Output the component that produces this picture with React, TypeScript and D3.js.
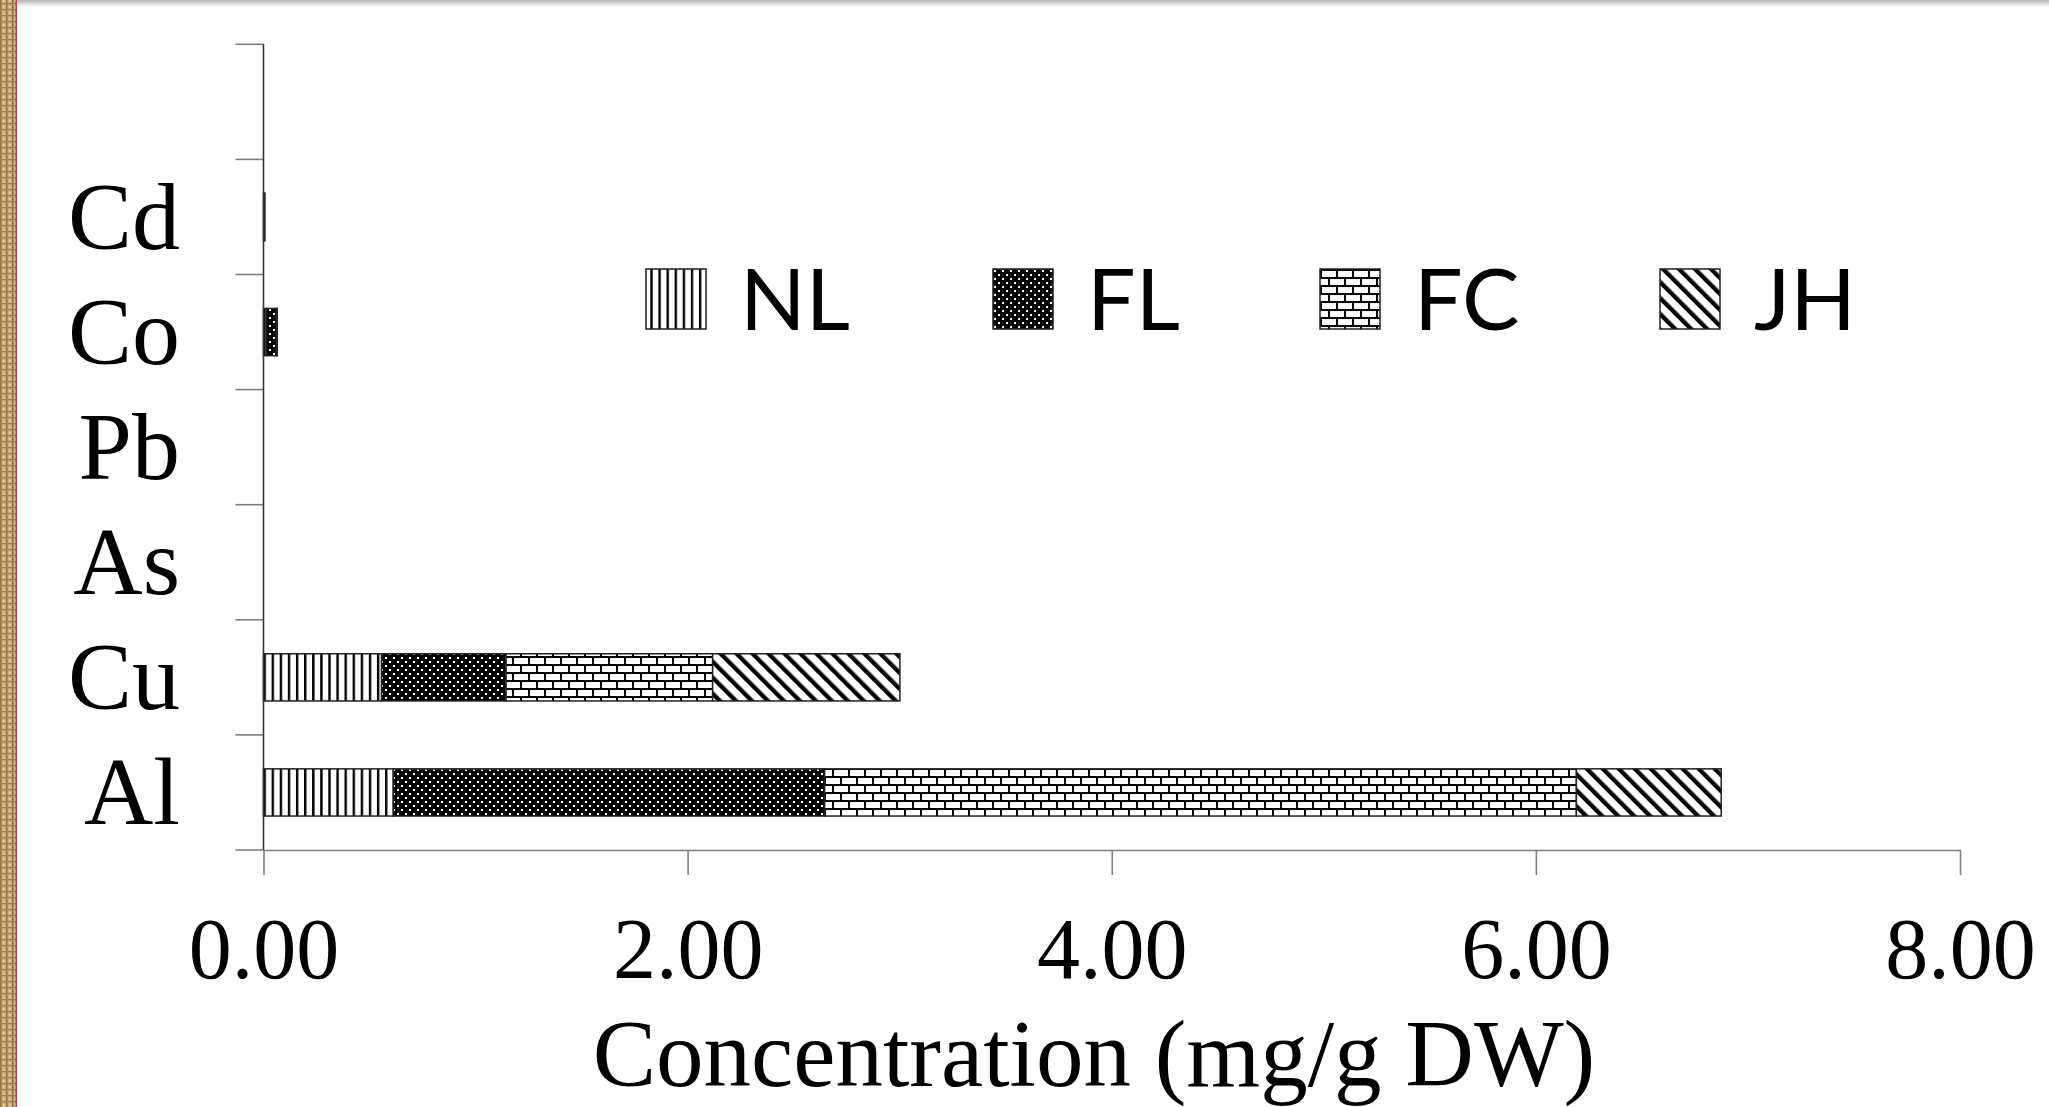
import { useEffect, useRef } from 'react';
import * as d3 from 'd3';

// bottom to top, the top slot is empty in the original chart
const categories = ['Al', 'Cu', 'As', 'Pb', 'Co', 'Cd', ''];
const seriesNames = ['NL', 'FL', 'FC', 'JH'];
const nlValues = [0.612, 0.557, 0, 0, 0.015, 0.002, 0];
const flValues = [2.034, 0.587, 0, 0, 0.045, 0.002, 0];
const fcValues = [3.545, 0.974, 0, 0, 0.003, 0.001, 0];
const jhValues = [0.683, 0.883, 0, 0, 0.002, 0.001, 0];
const xTicks = [0, 2, 4, 6, 8];

export default function App() {
  const svgRef = useRef<SVGSVGElement>(null);

  useEffect(() => {
    const width = 2049;
    const height = 1107;
    const left = 263.5, right = 1960, top = 44.3, bottom = 850;
    const legendX = [646, 993, 1320, 1660];

    const svg = d3.select(svgRef.current).attr('width', width).attr('height', height);
    svg.selectAll('*').remove();

    const defs = svg.append('defs');

    // NL: vertical lines
    const pNL = defs.append('pattern').attr('id', 'pNL').attr('patternUnits', 'userSpaceOnUse')
      .attr('x', left).attr('width', 8.1).attr('height', 8);
    pNL.append('rect').attr('width', 8.1).attr('height', 8).attr('fill', '#fff');
    pNL.append('rect').attr('width', 2.4).attr('height', 8).attr('fill', '#000');

    // FL: black with staggered white dots
    const pFL = defs.append('pattern').attr('id', 'pFL').attr('patternUnits', 'userSpaceOnUse')
      .attr('width', 8).attr('height', 8);
    pFL.append('rect').attr('width', 8).attr('height', 8).attr('fill', '#000');
    pFL.append('rect').attr('x', 1).attr('y', 1).attr('width', 2).attr('height', 2).attr('fill', '#fff');
    pFL.append('rect').attr('x', 5).attr('y', 5).attr('width', 2).attr('height', 2).attr('fill', '#fff');

    // FC: bricks
    const pFC = defs.append('pattern').attr('id', 'pFC').attr('patternUnits', 'userSpaceOnUse')
      .attr('width', 16).attr('height', 16);
    pFC.append('rect').attr('width', 16).attr('height', 16).attr('fill', '#fff');
    pFC.append('rect').attr('y', 0).attr('width', 16).attr('height', 2).attr('fill', '#000');
    pFC.append('rect').attr('y', 8).attr('width', 16).attr('height', 2).attr('fill', '#000');
    pFC.append('rect').attr('x', 0).attr('y', 0).attr('width', 2).attr('height', 8).attr('fill', '#000');
    pFC.append('rect').attr('x', 8).attr('y', 8).attr('width', 2).attr('height', 8).attr('fill', '#000');

    // JH: diagonal stripes "\"
    const pJH = defs.append('pattern').attr('id', 'pJH').attr('patternUnits', 'userSpaceOnUse')
      .attr('width', 11.3).attr('height', 11.3).attr('patternTransform', 'rotate(-45)');
    pJH.append('rect').attr('width', 11.3).attr('height', 11.3).attr('fill', '#fff');
    pJH.append('rect').attr('width', 4.3).attr('height', 11.3).attr('fill', '#000');

    // burlap texture on the left edge
    const pTex = defs.append('pattern').attr('id', 'pTex').attr('patternUnits', 'userSpaceOnUse')
      .attr('width', 6).attr('height', 6);
    pTex.append('rect').attr('width', 6).attr('height', 6).attr('fill', '#c9ae76');
    pTex.append('rect').attr('x', 0).attr('width', 1.5).attr('height', 6).attr('fill', '#8e7446');
    pTex.append('rect').attr('y', 3).attr('width', 6).attr('height', 1.2).attr('fill', '#9c814f');
    pTex.append('rect').attr('x', 3).attr('y', 0).attr('width', 1.5).attr('height', 2).attr('fill', '#e4d3a4');

    const grad = defs.append('linearGradient').attr('id', 'topShade').attr('x1', 0).attr('x2', 0).attr('y1', 0).attr('y2', 1);
    grad.append('stop').attr('offset', '0%').attr('stop-color', '#b5b5b5');
    grad.append('stop').attr('offset', '100%').attr('stop-color', '#ffffff');

    svg.append('rect').attr('width', width).attr('height', height).attr('fill', '#fff');
    svg.append('rect').attr('width', width).attr('height', 7).attr('fill', 'url(#topShade)');
    svg.append('rect').attr('width', 16).attr('height', height).attr('fill', 'url(#pTex)');
    svg.append('rect').attr('x', 15.5).attr('width', 1.5).attr('height', height).attr('fill', '#b8474a');

    const x = d3.scaleLinear().domain([0, 8]).range([left, right]);
    const y = d3.scaleBand<string>().domain(categories).range([bottom, top])
      .paddingInner(0.59).paddingOuter(0.295);

    const rows = categories.map((c, i) => ({
      cat: c, NL: nlValues[i], FL: flValues[i], FC: fcValues[i], JH: jhValues[i],
    }));
    const stacked = d3.stack<any>().keys(seriesNames)(rows);
    const patternOf: Record<string, string> = { NL: 'url(#pNL)', FL: 'url(#pFL)', FC: 'url(#pFC)', JH: 'url(#pJH)' };

    // bars
    svg.append('g').selectAll('g')
      .data(stacked)
      .join('g')
      .attr('fill', s => patternOf[s.key])
      .selectAll('rect')
      .data(s => s.filter(d => d[1] - d[0] > 0))
      .join('rect')
      .attr('x', d => x(d[0]))
      .attr('y', d => y(d.data.cat)!)
      .attr('width', d => x(d[1]) - x(d[0]))
      .attr('height', y.bandwidth())
      .attr('stroke', '#222')
      .attr('stroke-width', 1.5);

    // y axis: boundary ticks and line
    const step = y.step();
    const gap = step - y.bandwidth();
    const bounds = categories.map(c => y(c)! - gap / 2 + step).concat([y(categories[categories.length - 1])! - gap / 2]);
    const yAxis = svg.append('g');
    yAxis.selectAll('line.tick')
      .data(bounds)
      .join('line')
      .attr('class', 'tick')
      .attr('x1', left - 28).attr('x2', left)
      .attr('y1', d => d).attr('y2', d => d)
      .attr('stroke', '#7f7f7f').attr('stroke-width', 1.6);

    // x axis
    const xAxis = svg.append('g').attr('transform', `translate(0,${bottom})`)
      .call(d3.axisBottom(x).tickValues(xTicks).tickSize(25).tickSizeOuter(0).tickFormat(d3.format('.2f')));
    xAxis.select('.domain').attr('stroke', '#7f7f7f').attr('stroke-width', 1.6);
    xAxis.selectAll('.tick line').attr('stroke', '#7f7f7f').attr('stroke-width', 1.6);
    xAxis.selectAll('.tick text')
      .attr('y', 128).attr('dy', null)
      .attr('fill', '#000')
      .style('font-family', '"Liberation Serif", "Times New Roman", serif')
      .style('font-size', '86px');

    yAxis.append('line')
      .attr('x1', left).attr('x2', left).attr('y1', top).attr('y2', bottom)
      .attr('stroke', '#333').attr('stroke-width', 1.6);

    // category labels
    svg.append('g').selectAll('text')
      .data(categories)
      .join('text')
      .attr('x', 180)
      .attr('y', c => y(c)! + y.bandwidth() / 2 + 32)
      .attr('text-anchor', 'end')
      .style('font-family', '"Liberation Serif", "Times New Roman", serif')
      .style('font-size', '96px')
      .text(c => c);

    // axis title
    svg.append('text')
      .attr('x', 1094).attr('y', 1086)
      .attr('text-anchor', 'middle')
      .style('font-family', '"Liberation Serif", "Times New Roman", serif')
      .style('font-size', '95px')
      .text('Concentration (mg/g DW)');

    // legend
    const legend = svg.append('g').selectAll('g')
      .data(seriesNames)
      .join('g')
      .attr('transform', (d, i) => `translate(${legendX[i]},269)`);
    legend.append('rect')
      .attr('width', 60).attr('height', 60)
      .attr('fill', d => patternOf[d])
      .attr('stroke', '#222').attr('stroke-width', 1.5);
    legend.append('text')
      .attr('x', 94).attr('y', 61)
      .style('font-family', 'Lato, "Open Sans", sans-serif')
      .style('font-size', '86px')
      .text(d => d);
  }, []);

  return (
    <svg ref={svgRef} style={{ position: 'absolute', left: 0, top: 0, display: 'block' }}></svg>
  );
}
